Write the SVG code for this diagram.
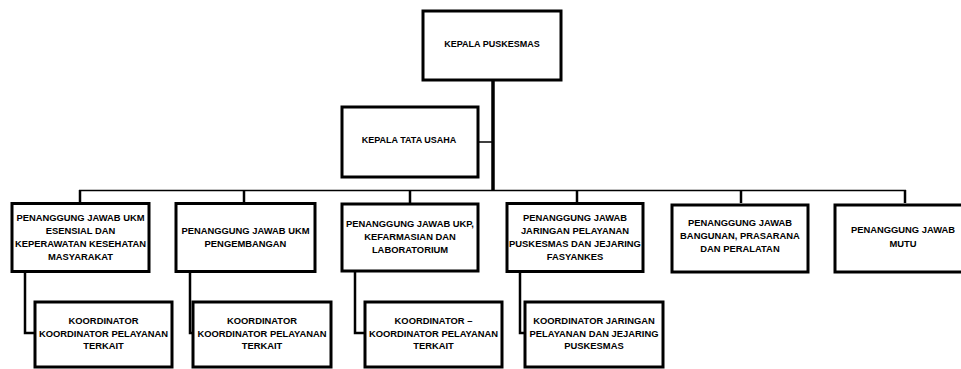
<svg xmlns="http://www.w3.org/2000/svg" width="961" height="369" viewBox="0 0 961 369">
<style>
.box{fill:#fff;stroke:#000;stroke-width:3}
.t{font-family:"Liberation Sans",Arial,sans-serif;font-weight:bold;font-size:9px;fill:#000;text-anchor:middle}
.r{font-size:9.4px}
.c{fill:none;stroke:#000;stroke-linejoin:miter}
</style>
<rect width="961" height="369" fill="#fff"/>
<g id="connectors">
<line class="c" x1="493" y1="80" x2="493" y2="191" stroke-width="3.5"/>
<line class="c" x1="478" y1="142" x2="493" y2="142" stroke-width="1.5"/>
<line class="c" x1="79" y1="190.5" x2="906" y2="190.5" stroke-width="1.5"/>
<line class="c" x1="80" y1="190" x2="80" y2="203" stroke-width="2.5"/>
<line class="c" x1="244" y1="190" x2="244" y2="203" stroke-width="2.5"/>
<line class="c" x1="410" y1="190" x2="410" y2="203" stroke-width="2.5"/>
<line class="c" x1="577" y1="190" x2="577" y2="203" stroke-width="2.5"/>
<line class="c" x1="741" y1="190" x2="741" y2="203" stroke-width="2.5"/>
<line class="c" x1="905" y1="190" x2="905" y2="203" stroke-width="2.5"/>
<polyline class="c" points="25,272 25,333 35,333" stroke-width="2.5"/>
<polyline class="c" points="190,272 190,333 193,333" stroke-width="2.5"/>
<polyline class="c" points="355,272 355,333 365,333" stroke-width="2.5"/>
<polyline class="c" points="520,272 520,333 525,333" stroke-width="2.5"/>
</g>
<g id="kepala-puskesmas">
<rect class="box" x="423" y="11" width="138" height="69"/>
<text class="t" x="492" y="46.5">KEPALA PUSKESMAS</text>
</g>
<g id="kepala-tata-usaha">
<rect class="box" x="342" y="107" width="136" height="70"/>
<text class="t" x="409" y="143">KEPALA TATA USAHA</text>
</g>
<g id="pj-ukm-esensial">
<rect class="box" x="12" y="203.5" width="137" height="68"/>
<text class="t r" x="80.5" y="221.2">PENANGGUNG JAWAB UKM</text>
<text class="t r" x="80.5" y="234.2">ESENSIAL DAN</text>
<text class="t r" x="80.5" y="247.2">KEPERAWATAN KESEHATAN</text>
<text class="t r" x="80.5" y="260.2">MASYARAKAT</text>
</g>
<g id="pj-ukm-pengembangan">
<rect class="box" x="176" y="203.5" width="139" height="68"/>
<text class="t r" x="245.5" y="233.5">PENANGGUNG JAWAB UKM</text>
<text class="t r" x="245.5" y="246.5">PENGEMBANGAN</text>
</g>
<g id="pj-ukp">
<rect class="box" x="342" y="204" width="136" height="67"/>
<text class="t r" x="410" y="227">PENANGGUNG JAWAB UKP,</text>
<text class="t r" x="410" y="240">KEFARMASIAN DAN</text>
<text class="t r" x="410" y="253">LABORATORIUM</text>
</g>
<g id="pj-jaringan">
<rect class="box" x="507" y="203.5" width="136" height="68"/>
<text class="t r" x="575" y="221.2">PENANGGUNG JAWAB</text>
<text class="t r" x="575" y="234.2">JARINGAN PELAYANAN</text>
<text class="t r" x="575" y="247.2">PUSKESMAS DAN JEJARING</text>
<text class="t r" x="575" y="260.2">FASYANKES</text>
</g>
<g id="pj-bangunan">
<rect class="box" x="672" y="205" width="136" height="67"/>
<text class="t r" x="740" y="226">PENANGGUNG JAWAB</text>
<text class="t r" x="740" y="239">BANGUNAN, PRASARANA</text>
<text class="t r" x="740" y="252">DAN PERALATAN</text>
</g>
<g id="pj-mutu">
<rect class="box" x="835" y="205" width="138" height="67"/>
<text class="t r" x="903" y="233">PENANGGUNG JAWAB</text>
<text class="t r" x="903" y="247">MUTU</text>
</g>
<g id="koordinator-1">
<rect class="box" x="35" y="302" width="137" height="65"/>
<text class="t r" x="103.5" y="324">KOORDINATOR</text>
<text class="t r" x="103.5" y="336.5">KOORDINATOR PELAYANAN</text>
<text class="t r" x="103.5" y="349">TERKAIT</text>
</g>
<g id="koordinator-2">
<rect class="box" x="193" y="302" width="138" height="65"/>
<text class="t r" x="262" y="324">KOORDINATOR</text>
<text class="t r" x="262" y="336.5">KOORDINATOR PELAYANAN</text>
<text class="t r" x="262" y="349">TERKAIT</text>
</g>
<g id="koordinator-3">
<rect class="box" x="365" y="302" width="137" height="65"/>
<text class="t r" x="433.5" y="324">KOORDINATOR –</text>
<text class="t r" x="433.5" y="336.5">KOORDINATOR PELAYANAN</text>
<text class="t r" x="433.5" y="349">TERKAIT</text>
</g>
<g id="koordinator-jaringan">
<rect class="box" x="525" y="302" width="138" height="65"/>
<text class="t r" x="594" y="324">KOORDINATOR JARINGAN</text>
<text class="t r" x="594" y="336.5">PELAYANAN DAN JEJARING</text>
<text class="t r" x="594" y="349">PUSKESMAS</text>
</g>
</svg>
